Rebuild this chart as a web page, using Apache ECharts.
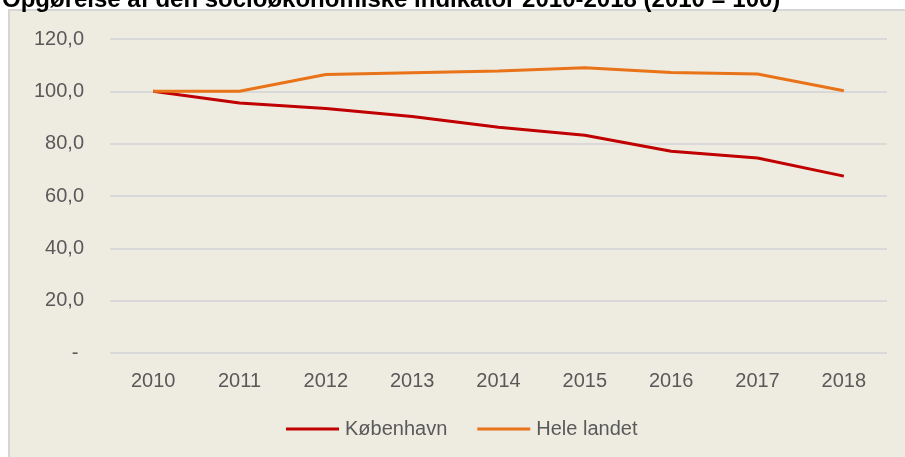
<!DOCTYPE html>
<html><head><meta charset="utf-8">
<script src="https://cdn.jsdelivr.net/npm/echarts@6/dist/echarts.min.js"></script>
<style>html,body{margin:0;padding:0;background:#fff}#c{width:905px;height:457px}</style>
</head><body><div id="c"></div>
<script>
const titleText = 'Opgørelse af den socioøkonomiske indikator 2010-2018 (2010 = 100)';
const years = ['2010','2011','2012','2013','2014','2015','2016','2017','2018'];
const kobenhavn = [100.0, 95.5, 93.4, 90.4, 86.3, 83.2, 77.1, 74.5, 67.6];
const heleLandet = [100.0, 100.0, 106.4, 107.1, 107.8, 109.0, 107.2, 106.6, 100.2];
const seriesNames = ['København', 'Hele landet'];
const yTicks = [0, 20, 40, 60, 80, 100, 120];

const chart = echarts.init(document.getElementById('c'));
const font = '"Liberation Sans", Arial, sans-serif';
chart.setOption({
  backgroundColor: '#ffffff',
  animation: false,
  textStyle: {fontFamily: font},
  graphic: [
    {type: 'rect', z: -10, shape: {x: 9, y: 10, width: 1000, height: 600},
     style: {fill: '#EEEBE1', stroke: '#D6D6D6', lineWidth: 2}},
    {type: 'text', z: 10, x: 2, y: 0,
     style: {text: titleText, fill: '#000', font: 'bold 24px ' + font, textVerticalAlign: 'middle'}}
  ],
  grid: {left: 110, right: 18, top: 39, bottom: 104, containLabel: false},
  xAxis: {
    type: 'category', data: years, boundaryGap: true,
    axisLine: {show: false}, axisTick: {show: false},
    axisLabel: {color: '#595959', fontSize: 20, margin: 18, fontFamily: font}
  },
  yAxis: {
    type: 'value', min: yTicks[0], max: yTicks[yTicks.length - 1], interval: 20,
    axisLine: {show: false}, axisTick: {show: false},
    splitLine: {lineStyle: {color: '#D9D9D9', width: 2}},
    axisLabel: {color: '#595959', fontSize: 20, margin: 26, fontFamily: font,
      formatter: v => v === 0 ? '- ' : v.toFixed(1).replace('.', ',')}
  },
  legend: {
    left: 281, top: 414, itemWidth: 53, itemHeight: 3, itemGap: 30,
    icon: 'rect',
    textStyle: {color: '#595959', fontSize: 20, fontFamily: font, padding: [0, 0, 0, 1]},
    data: seriesNames
  },
  series: [
    {name: seriesNames[0], type: 'line', data: kobenhavn, symbol: 'none',
     lineStyle: {color: '#C00000', width: 3}, itemStyle: {color: '#C00000'}},
    {name: seriesNames[1], type: 'line', data: heleLandet, symbol: 'none',
     lineStyle: {color: '#E97318', width: 3}, itemStyle: {color: '#E97318'}}
  ]
});
</script></body></html>
